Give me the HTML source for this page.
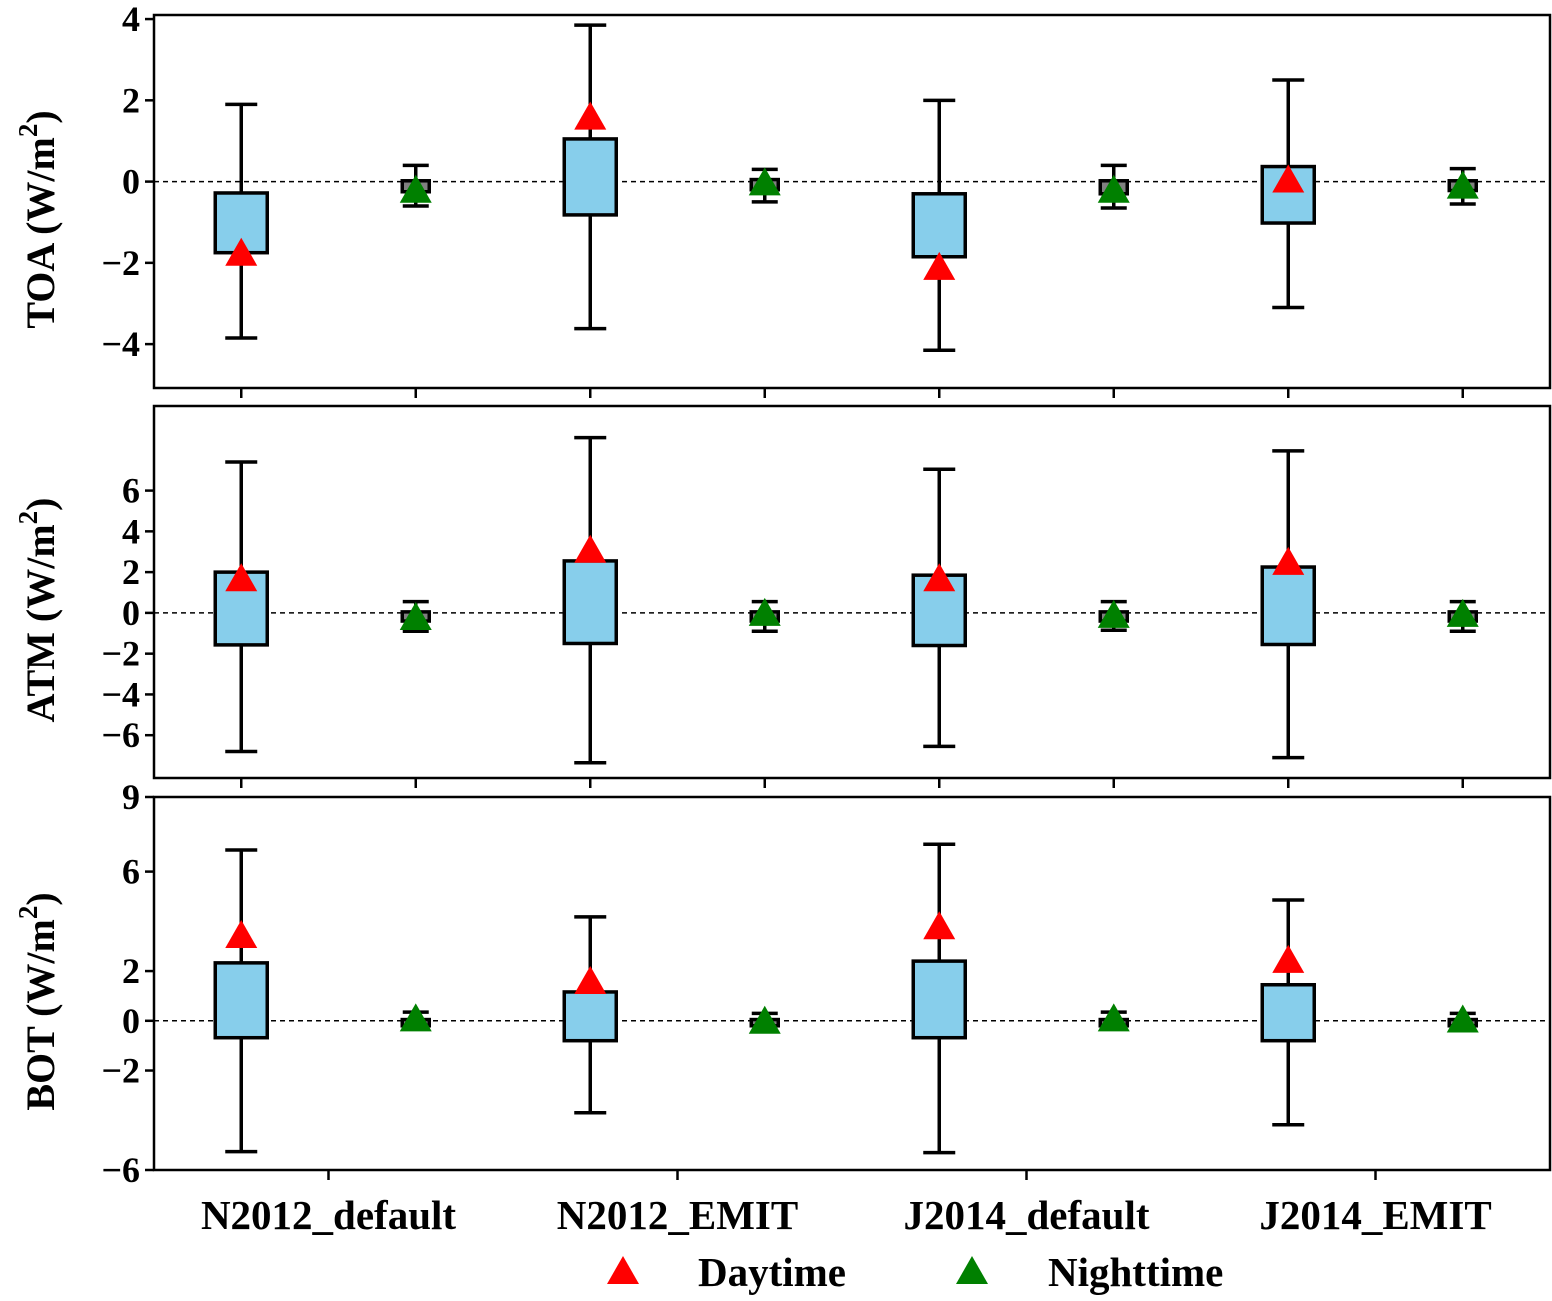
<!DOCTYPE html>
<html><head><meta charset="utf-8"><style>
html,body{margin:0;padding:0;background:#fff}
svg text{font-family:"Liberation Serif",serif;font-weight:bold;fill:#000}
</style></head><body>
<svg id="chart" width="1552" height="1296" xmlns="http://www.w3.org/2000/svg"></svg>
<script>
const categories=["N2012_default","N2012_EMIT","J2014_default","J2014_EMIT"];
const panelNames=["TOA","ATM","BOT"];
const toaDay=[[-3.85,-1.75,-0.28,1.9,-1.75],[-3.62,-0.82,1.05,3.85,1.6],[-4.15,-1.85,-0.3,2.0,-2.1],[-3.1,-1.02,0.37,2.5,0.05]];
const toaNight=[[-0.6,-0.25,0.02,0.4,-0.2],[-0.5,-0.2,0.05,0.3,-0.02],[-0.65,-0.3,0.02,0.4,-0.2],[-0.55,-0.22,0.02,0.32,-0.1]];
const atmDay=[[-6.8,-1.57,2.0,7.4,1.7],[-7.35,-1.5,2.55,8.6,3.1],[-6.55,-1.6,1.85,7.05,1.7],[-7.1,-1.55,2.25,7.95,2.5]];
const atmNight=[[-0.9,-0.4,0.05,0.55,-0.2],[-0.9,-0.4,0.05,0.55,0],[-0.85,-0.4,0.05,0.55,-0.1],[-0.9,-0.4,0.05,0.55,-0.05]];
const botDay=[[-5.26,-0.68,2.33,6.87,3.45],[-3.7,-0.8,1.16,4.18,1.6],[-5.3,-0.68,2.4,7.1,3.8],[-4.18,-0.8,1.45,4.86,2.45]];
const botNight=[[-0.2,-0.2,0.05,0.35,0.1],[-0.2,-0.2,0.05,0.3,0],[-0.2,-0.2,0.05,0.35,0.1],[-0.2,-0.2,0.05,0.3,0.05]];
const toaTicks=[-4,-2,0,2,4];
const atmTicks=[-6,-4,-2,0,2,4,6];
const botTicks=[-6,-2,0,2,6,9];

const NS="http://www.w3.org/2000/svg";
const svg=document.getElementById('chart');
function el(tag,attrs,parent){const e=document.createElementNS(NS,tag);for(const k in attrs)e.setAttribute(k,attrs[k]);(parent||svg).appendChild(e);return e;}
const X0=154,X1=1550;
const panels=[
 {y0:15,y1:388,vmax:4.1,vmin:-5.08,ticks:toaTicks,day:toaDay,night:toaNight},
 {y0:406,y1:778,vmax:10.15,vmin:-8.1,ticks:atmTicks,day:atmDay,night:atmNight},
 {y0:797,y1:1170,vmax:9,vmin:-6,ticks:botTicks,day:botDay,night:botNight}];
const xs=i=>X0+(X1-X0)/8*(i+0.5);
function tri(g,cx,cy,color){el('polygon',{points:`${cx-16},${cy+13} ${cx+16},${cy+13} ${cx},${cy-15}`,fill:color},g);}
panels.forEach((p,pi)=>{
  const g=el('g',{});
  
  
  const ys=v=>p.y0+(p.vmax-v)/(p.vmax-p.vmin)*(p.y1-p.y0);
  el('line',{x1:X0,x2:X1,y1:ys(0),y2:ys(0),stroke:'#000','stroke-width':1.5,'stroke-dasharray':'5,4'},g);
  p.ticks.forEach(t=>{
    const y=ys(t);
    el('line',{x1:X0-9,x2:X0,y1:y,y2:y,stroke:'#000','stroke-width':2.5},g);
    const tx=el('text',{x:X0-14,y:y+12,'text-anchor':'end','font-size':36},g);
    tx.textContent=(t<0?'\u2212':'')+Math.abs(t);
    
    
  });
  const cy=(p.y0+p.y1)/2+18;
  const tt=el('text',{transform:`translate(54,${cy}) rotate(-90)`,'text-anchor':'middle','font-size':40},g);
  tt.innerHTML=panelNames[pi]+' (W/m<tspan dy="-17" font-size="27">2</tspan><tspan dy="17">)</tspan>';
  
  
  for(let c=0;c<4;c++){
    [[p.day[c],2*c,52,'#87ceeb','#ff0000'],[p.night[c],2*c+1,27,'#808080','#008000']].forEach(([d,idx,w,fc,mc])=>{
      const x=xs(idx);
      const bg=el('g',{},g);
      
      
      const cw=w>30?16:13;
      el('line',{x1:x,x2:x,y1:ys(d[0]),y2:ys(d[3]),stroke:'#000','stroke-width':3.5},bg);
      el('line',{x1:x-cw,x2:x+cw,y1:ys(d[0]),y2:ys(d[0]),stroke:'#000','stroke-width':3.5},bg);
      el('line',{x1:x-cw,x2:x+cw,y1:ys(d[3]),y2:ys(d[3]),stroke:'#000','stroke-width':3.5},bg);
      el('rect',{x:x-w/2,y:ys(d[2]),width:w,height:ys(d[1])-ys(d[2]),fill:fc,stroke:'#000','stroke-width':3.5},bg);
      tri(bg,x,ys(d[4]),mc);
    });
    if(pi<2){for(let k=0;k<2;k++){const x=xs(2*c+k);el('line',{x1:x,x2:x,y1:p.y1,y2:p.y1+10,stroke:'#000','stroke-width':2.5},g);}}
    else{
      const x=(xs(2*c)+xs(2*c+1))/2;
      el('line',{x1:x,x2:x,y1:p.y1,y2:p.y1+10,stroke:'#000','stroke-width':2.5},g);
      const xl=el('text',{x:x,y:1229,'text-anchor':'middle','font-size':41},g);
      xl.textContent=categories[c];
      
      
    }
  }
  el('rect',{x:X0,y:p.y0,width:X1-X0,height:p.y1-p.y0,fill:'none',stroke:'#000','stroke-width':2.5},g);
});
const lg=el('g',{});


const e1=el('g',{},lg);


tri(e1,623,1271,'#ff0000');
el('text',{x:698,y:1286,'font-size':41},e1).textContent='Daytime';
const e2=el('g',{},lg);


tri(e2,972,1271,'#008000');
el('text',{x:1048,y:1286,'font-size':41},e2).textContent='Nighttime';
</script>
</body></html>
